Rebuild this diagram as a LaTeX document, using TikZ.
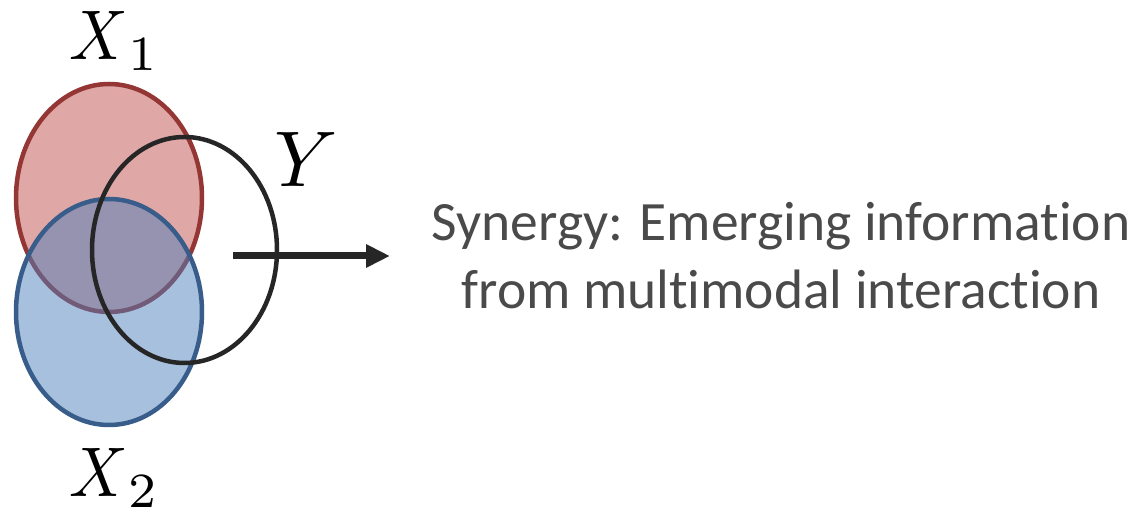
\documentclass[tikz,border=0pt]{standalone}
\usepackage{fontspec}
\usepackage{graphicx}
\newfontfamily\labelfont[Ligatures={NoCommon}]{Carlito}
\usetikzlibrary{arrows.meta,shapes.geometric}
\definecolor{redfill}{HTML}{C0504D}
\definecolor{rededge}{HTML}{943634}
\definecolor{bluefill}{HTML}{4F81BD}
\definecolor{blueedge}{HTML}{385D8A}
\definecolor{darkline}{HTML}{262626}
\definecolor{textgray}{HTML}{4A4A4A}
% a modality symbol X with its index
\newcommand{\modvar}[1]{$\scalebox{0.92}[1]{$X$}_{#1}$}
\tikzset{
  setshape/.style={ellipse, minimum width=186pt, minimum height=228pt, line width=4.5pt, inner sep=0pt},
  varlabel/.style={font=\fontsize{10}{12}\selectfont, scale=7.03, inner sep=0pt, anchor=base west},
}
\begin{document}
\begin{tikzpicture}[x=1pt,y=1pt]
  \useasboundingbox (0,0) rectangle (1145,510);
  % the two modalities
  \node[setshape, draw=rededge, fill=redfill, fill opacity=0.5] (x1) at (109,312) {};
  \node[setshape, draw=blueedge, fill=bluefill, fill opacity=0.5, minimum height=226pt] (x2) at (109,198) {};
  % the target
  \node[setshape, draw=darkline, minimum width=185pt, minimum height=226pt] (y) at (184.5,260) {};
  % labels
  \node[varlabel] (lx1) at (68,450) {\modvar{1}};
  \node[varlabel, scale=7.9/7.03] (ly) at (273,323) {$Y$};
  \node[varlabel] (lx2) at (68,13) {\modvar{2}};
  % output arrow and description
  \coordinate (a0) at (233,254);
  \coordinate (a1) at (390,254);
  \node[font=\labelfont\fontsize{55.5}{68}\selectfont, text=textgray, align=center, inner sep=0pt] (syn) at (781,254)
    {Synergy: Emerging information\\from multimodal interaction};
  \draw[darkline, line width=7pt, -{Triangle[length=24pt,width=22pt]}] (a0) -- (a1);
\end{tikzpicture}
\end{document}
